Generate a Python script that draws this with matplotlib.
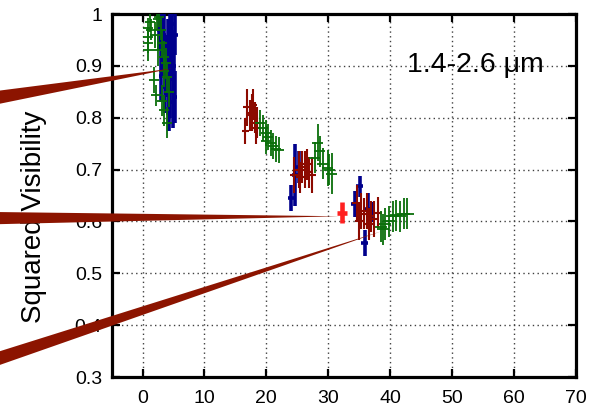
import matplotlib
matplotlib.use('Agg')
import matplotlib.pyplot as plt

plt.rcParams['font.family'] = ['Liberation Sans', 'DejaVu Sans']

# --- data (baseline in m, V^2) ---
blue_x = [2.6, 2.9, 3.1, 3.3, 3.5, 3.7, 3.9, 4.1, 4.3, 4.5, 4.7, 4.9, 5.1, 5.3,
          3.0, 3.6, 4.2, 4.8, 5.2, 4.4,
          24.0, 24.7, 25.2, 34.3, 35.1, 35.9, 36.4, 37.0]
blue_y = [0.97, 0.99, 0.95, 0.93, 0.96, 0.91, 0.89, 0.94, 0.87, 0.85, 0.92, 0.83, 0.90, 0.96,
          0.88, 0.86, 0.81, 0.98, 0.84, 0.95,
          0.645, 0.69, 0.705, 0.634, 0.668, 0.558, 0.624, 0.618]
blue_xerr = [0.35] * 20 + [0.5, 0.5, 0.5, 0.6, 0.6, 0.6, 0.5, 0.5]
blue_yerr = [0.04, 0.04, 0.05, 0.05, 0.04, 0.05, 0.05, 0.05, 0.05, 0.05, 0.05, 0.05, 0.05, 0.04,
             0.05, 0.05, 0.035, 0.04, 0.05, 0.05,
             0.025, 0.06, 0.03, 0.025, 0.02, 0.025, 0.03, 0.02]

red_x = [16.8, 17.3, 17.7, 18.1, 18.5, 16.6, 17.9, 18.3,
         24.5, 25.2, 25.8, 26.3, 26.9, 27.4, 25.5, 26.6,
         34.6, 35.3, 35.8, 36.3, 36.9, 37.4, 38.0, 35.0, 36.6]
red_y = [0.82, 0.805, 0.81, 0.80, 0.79, 0.775, 0.825, 0.78,
         0.69, 0.70, 0.705, 0.70, 0.695, 0.69, 0.685, 0.71,
         0.635, 0.62, 0.615, 0.62, 0.61, 0.605, 0.617, 0.60, 0.595]
red_xerr = [0.6] * 8 + [0.7] * 8 + [0.7] * 9
red_yerr = [0.035, 0.03, 0.035, 0.03, 0.03, 0.025, 0.03, 0.03,
            0.035, 0.035, 0.03, 0.035, 0.03, 0.035, 0.03, 0.03,
            0.035, 0.035, 0.03, 0.035, 0.03, 0.035, 0.03, 0.035, 0.03]

green_x = [0.8, 0.8, 0.8, 0.8, 1.9, 2.2, 3.2, 3.5, 4.0, 2.7, 3.0, 3.2, 3.8, 3.5, 4.0, 1.4,
           1.2, 2.0, 2.5, 3.4, 4.2, 2.4,
           19.0, 19.5, 19.9, 20.3, 20.7, 21.1, 21.6, 22.0, 20.0,
           28.3, 27.8, 29.1, 29.9, 30.6, 28.6, 30.2,
           38.5, 39.2, 39.8, 40.4, 41.0, 41.6, 42.2, 42.8, 38.9]
green_y = [0.973, 0.955, 0.944, 0.93, 0.872, 0.843, 0.833, 0.814, 0.79, 0.995, 0.97, 0.944,
           0.905, 0.917, 0.878, 0.97,
           0.985, 0.96, 0.93, 0.89, 0.85, 0.99,
           0.79, 0.78, 0.77, 0.762, 0.752, 0.745, 0.74, 0.737, 0.755,
           0.752, 0.723, 0.711, 0.703, 0.692, 0.735, 0.70,
           0.59, 0.595, 0.60, 0.61, 0.612, 0.61, 0.615, 0.615, 0.585]
green_xerr = [0.8] * 22 + [0.8] * 9 + [0.9] * 7 + [1.0] * 9
green_yerr = [0.02, 0.02, 0.02, 0.02, 0.025, 0.02, 0.03, 0.03, 0.03, 0.02, 0.02, 0.025,
              0.03, 0.03, 0.03, 0.02,
              0.02, 0.025, 0.03, 0.03, 0.03, 0.02,
              0.025, 0.025, 0.025, 0.025, 0.025, 0.025, 0.025, 0.025, 0.025,
              0.035, 0.03, 0.03, 0.035, 0.04, 0.03, 0.03,
              0.03, 0.03, 0.03, 0.03, 0.03, 0.03, 0.03, 0.03, 0.03]

hot_x = [32.2]
hot_y = [0.617]
hot_xerr = [0.8]
hot_yerr = [0.02]

# wedge tips (data) and wedge tails (axes fraction)
wedge_tip_x = [4.8, 31.8, 38.6]
wedge_tip_y = [0.895, 0.610, 0.581]
wedge_tail_x = [-0.35, -0.35, -0.35]
wedge_tail_y = [0.748, 0.437, 0.006]
wedge_width = [12.1, 10.0, 10.6]  # points

fig = plt.figure(figsize=(5.95, 4.17), dpi=100)
ax = fig.add_axes([0.1877, 0.0959, 0.7798, 0.8705])

ax.errorbar(blue_x, blue_y, xerr=blue_xerr, yerr=blue_yerr, fmt='none',
            ecolor='#00008c', elinewidth=2.6, capsize=0, zorder=3)
ax.errorbar(red_x, red_y, xerr=red_xerr, yerr=red_yerr, fmt='none',
            ecolor='#8c0a00', elinewidth=1.5, capsize=0, zorder=4)
ax.errorbar(green_x, green_y, xerr=green_xerr, yerr=green_yerr, fmt='none',
            ecolor='#0a6e0a', elinewidth=1.3, capsize=0, zorder=5)
ax.errorbar(hot_x, hot_y, xerr=hot_xerr, yerr=hot_yerr, fmt='none',
            ecolor='#ff2020', elinewidth=3.3, capsize=0, zorder=6)

for tx, ty, sx, sy, w in zip(wedge_tip_x, wedge_tip_y, wedge_tail_x, wedge_tail_y, wedge_width):
    ax.annotate('', xy=(tx, ty), xycoords='data',
                xytext=(sx, sy), textcoords='axes fraction',
                arrowprops=dict(arrowstyle=f'wedge,tail_width={w / 10}',
                                mutation_scale=10, color='#8c1400', lw=0,
                                shrinkA=0, shrinkB=0),
                annotation_clip=False, zorder=10)

ax.set_xlim(-5, 70)
ax.set_ylim(0.3, 1.0)
ax.set_xticks(range(0, 71, 10))
ax.set_yticks([0.3, 0.4, 0.5, 0.6, 0.7, 0.8, 0.9, 1.0])
ax.set_yticklabels(['0.3', '0.4', '0.5', '0.6', '0.7', '0.8', '0.9', '1'])

ax.grid(True, color='0.25', linestyle=(0, (1, 2.4)), linewidth=1.0)
ax.set_axisbelow(True)
ax.tick_params(direction='in', length=5.5, width=1.6, labelsize=14, pad=7,
               top=True, right=True)
ax.tick_params(axis='x', pad=9)
for s in ax.spines.values():
    s.set_linewidth(2.3)

ax.set_ylabel('Squared Visibility', fontsize=20)
ax.yaxis.set_label_coords(-0.14, 0.44)

ax.text(53.8, 0.901, '1.4-2.6 μm', fontsize=20.5, ha='center', va='center')

fig.savefig('out.png', dpi=100)
